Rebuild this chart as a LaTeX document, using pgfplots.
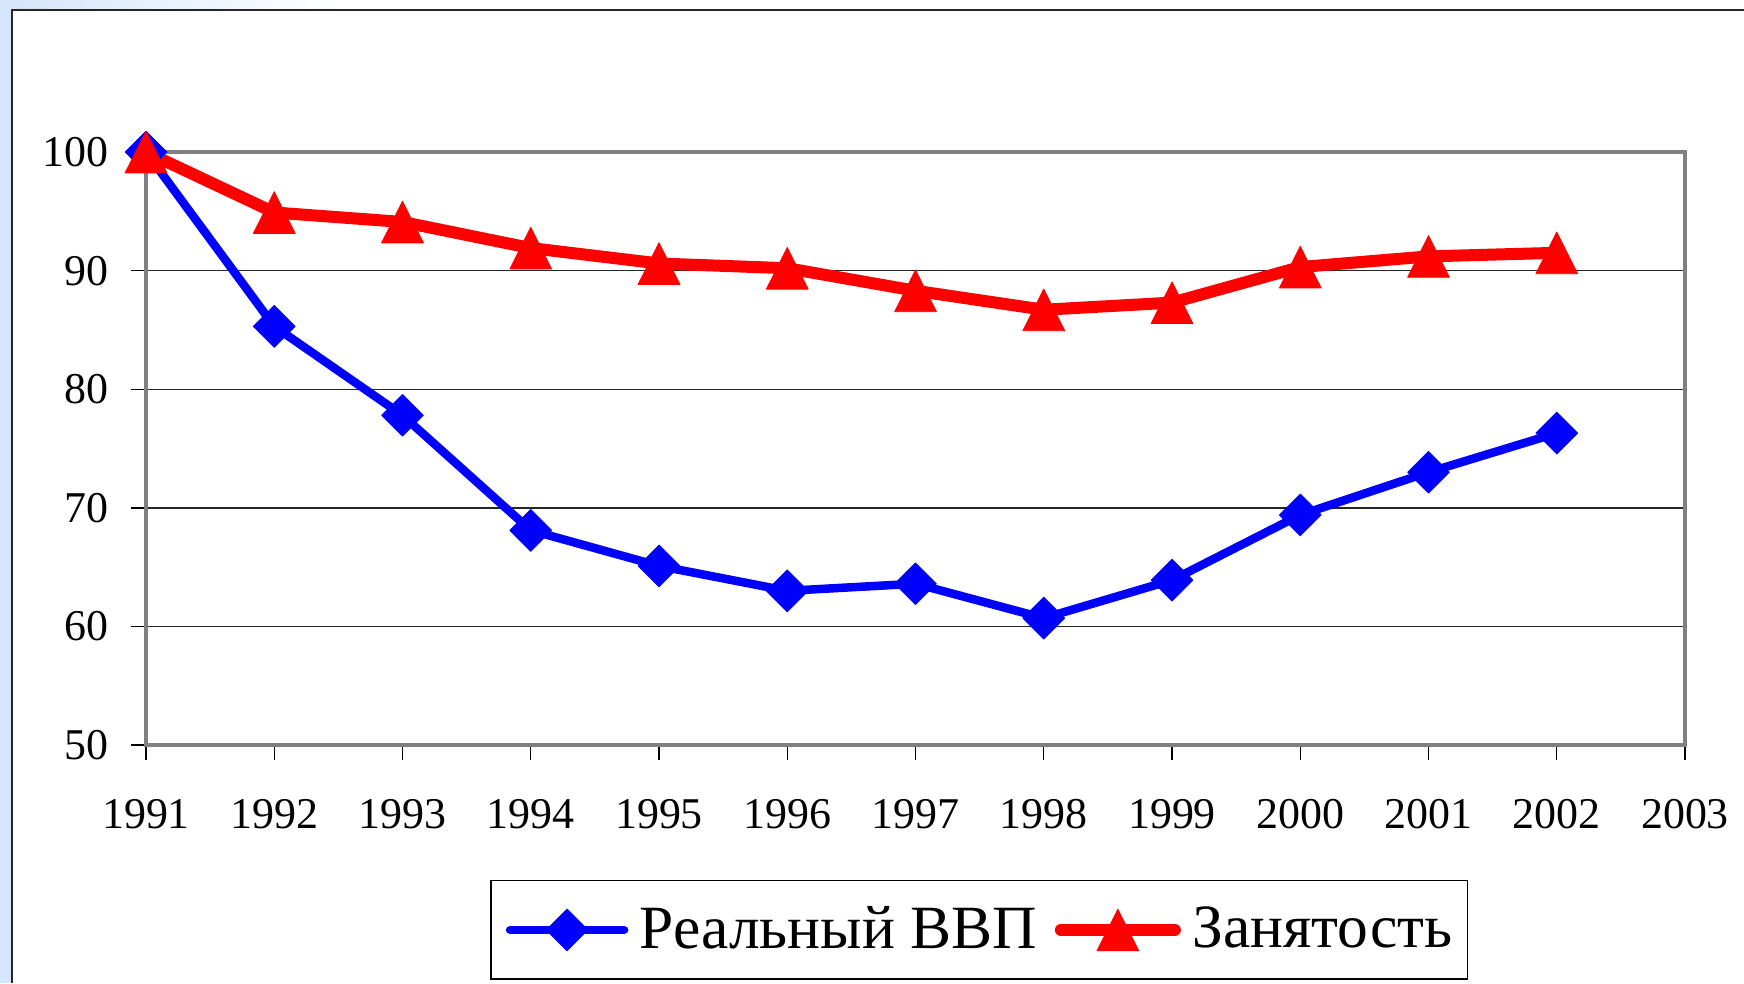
\documentclass[border=0pt]{standalone}
\usepackage{fontspec}
\setmainfont{Liberation Serif}
\usepackage{pgfplots}
\pgfplotsset{compat=1.18}
\definecolor{bgblue}{RGB}{214,230,250}
\definecolor{axgray}{RGB}{128,128,128}
\begin{document}
\begin{tikzpicture}
\path[use as bounding box] (0,0) rectangle (17.44,9.83);
\fill[bgblue] (0,0) rectangle (0.12,9.83);
\shade[left color=bgblue,right color=white] (0.12,9.73) rectangle (3.4,9.83);
\draw[black!85, line width=0.2mm] (0.12,0) -- (0.12,9.73) -- (17.44,9.73);
\begin{axis}[
  at={(1.46cm,2.38cm)}, anchor=south west, scale only axis,
  width=15.39cm, height=5.93cm,
  xmin=1991, xmax=2003, ymin=50, ymax=100,
  xtick={1991,1992,1993,1994,1995,1996,1997,1998,1999,2000,2001,2002,2003},
  xticklabels={1991,1992,1993,1994,1995,1996,1997,1998,1999,2000,2001,2002,2003},
  ytick={50,60,70,80,90,100},
  yticklabels={50,60,70,80,90,100},
  tick align=outside, tick pos=left, major tick length=1.5mm,
  tick style={black, line width=0.4pt},
  axis line style={axgray, line width=1pt},
  ymajorgrids, grid style={black!85, line width=0.4pt},
  ticklabel style={font=\fontsize{12.5}{14}\selectfont},
  xticklabel style={yshift=-2.65mm},
  yticklabel style={xshift=-1mm},
  legend columns=2,
  legend style={at={(0.5413,-0.2277)}, anchor=north, draw=black, line width=0.4pt,
    font=\fontsize{17.5}{20}\selectfont, inner xsep=1.5mm, inner ysep=2.55mm,
    nodes={inner sep=0pt},
    /tikz/every odd column/.append style={column sep=1.15mm},
    /tikz/every even column/.append style={column sep=1.8mm}},
  legend image code/.code={\draw[mark repeat=2,mark phase=2,#1] plot coordinates {(0cm,0cm) (0.57cm,0cm) (1.14cm,0cm)};},
  clip=false,
]
\addplot[blue, line width=0.85mm, line join=round, line cap=round,
  mark=square*, mark size=1.48mm, mark options={rotate=45, line width=0.2pt, fill=blue, draw=blue}]
  coordinates {(1991,100) (1992,85.3) (1993,77.8) (1994,68.1) (1995,65.1) (1996,63.0) (1997,63.6) (1998,60.7) (1999,63.9) (2000,69.4) (2001,73.0) (2002,76.3)};
\addlegendentry{Реальный ВВП}
\addplot[red, line width=1.2mm, line join=round, line cap=round,
  mark=triangle*, mark size=2.42mm, mark options={yshift=-0.7mm, yscale=1.15, line width=0.2pt, fill=red, draw=red}]
  coordinates {(1991,100) (1992,94.9) (1993,94.1) (1994,91.9) (1995,90.6) (1996,90.2) (1997,88.3) (1998,86.7) (1999,87.3) (2000,90.3) (2001,91.2) (2002,91.5)};
\addlegendentry{Занятость}
\end{axis}
\end{tikzpicture}
\end{document}
